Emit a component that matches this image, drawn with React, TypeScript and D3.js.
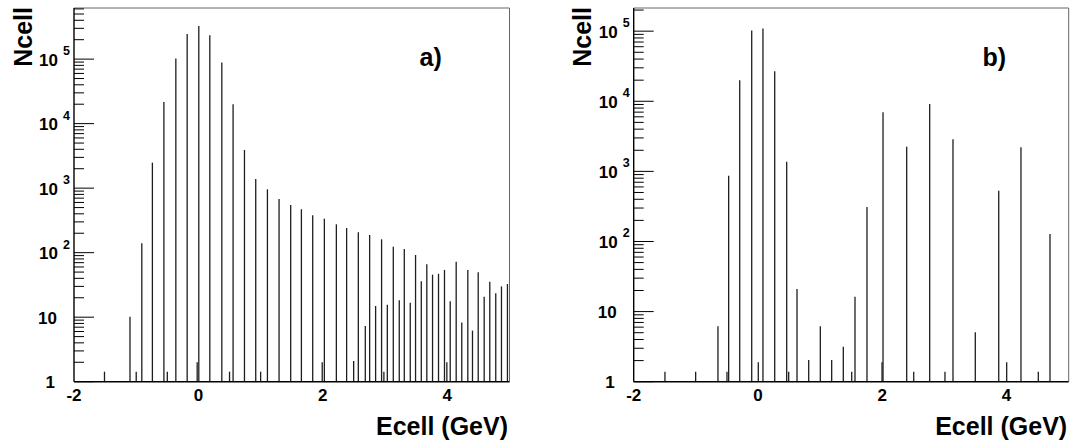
import React from "react";
import * as d3 from "d3";

// panel a) : cell energy (GeV) and number of cells
const energyA = [
  -1.51, -1.10, -1.0, -0.91, -0.74, -0.555, -0.5, -0.363, -0.181, -0.02, 0.006,
  0.183, 0.376, 0.5, 0.557, 0.74, 0.921, 1.0, 1.109, 1.296, 1.483, 1.655, 1.837,
  1.99, 2.024, 2.217, 2.382, 2.495, 2.57, 2.682, 2.752, 2.848, 2.944, 2.981,
  3.036, 3.132, 3.228, 3.309, 3.405, 3.49, 3.582, 3.671, 3.763, 3.859, 3.955,
  3.993, 4.047, 4.143, 4.233, 4.33, 4.405, 4.497, 4.593, 4.683, 4.779, 4.871,
  4.967,
];
const countsA = [
  1.43, 10.2, 1.43, 140, 2480, 21700, 1.43, 102000, 246000, 2.0, 327000,
  235000, 89000, 1.43, 20000, 3900, 1390, 1.43, 960, 680, 550, 471, 380,
  2.0, 336, 275, 241, 2.1, 207, 7.3, 188, 14.9, 161, 1.43,
  15.6, 124, 18.3, 114, 16.8, 92, 36, 66, 45.6, 47, 54,
  2.0, 17.6, 72, 8.3, 54, 6.2, 49.7, 20.8, 35.5, 23.5, 30,
  32.7,
];

// panel b)
const energyB = [
  -1.497, -1.003, -0.644, -0.499, -0.472, -0.294, -0.101, 0.005, 0.08, 0.269,
  0.462, 0.494, 0.628, 0.816, 1.003, 1.186, 1.373, 1.508, 1.561, 1.754, 1.996,
  2.012, 2.393, 2.506, 2.763, 3.009, 3.138, 3.497, 3.874, 4.002, 4.232, 4.511,
  4.699,
];
const countsB = [
  1.39, 1.39, 6.2, 1.39, 865, 20000, 102000, 1.9, 109000, 26800,
  1375, 1.39, 21, 2.04, 6.2, 2.04, 3.16, 1.39, 16.3, 311, 1.9,
  6970, 2250, 1.39, 9150, 1.39, 2870, 5.07, 531, 1.9, 2200, 1.39,
  128,
];

const xTicks = [-2, 0, 2, 4];
const yExps = [0, 1, 2, 3, 4, 5];
const xTitle = "Ecell (GeV)";
const yTitle = "Ncell";

const FONT = "'Liberation Sans', Arial, Helvetica, sans-serif";

type PanelProps = {
  energy: number[];
  counts: number[];
  yMax: number;
  left: number;
  right: number;
  top: number;
  bottom: number;
  tag: string;
  tagX: number;
};

function Panel({ energy, counts, yMax, left, right, top, bottom, tag, tagX }: PanelProps) {
  const x = d3.scaleLinear().domain([-2, 5]).range([left, right]);
  const y = d3.scaleLog().domain([1, yMax]).range([bottom, top]);

  const minor: number[] = [];
  yExps.forEach((e) => {
    for (let m = 2; m <= 9; m++) {
      const v = m * Math.pow(10, e);
      if (v < yMax) minor.push(v);
    }
  });

  return (
    <g>
      {/* bars */}
      {energy.map((e, i) => (
        <line
          key={i}
          x1={x(e)}
          x2={x(e)}
          y1={y(1)}
          y2={y(counts[i])}
          stroke="#1e1e1e"
          strokeWidth={1.3}
        />
      ))}

      {/* frame */}
      <line x1={left} x2={right} y1={top} y2={top} stroke="#666" strokeWidth={1} />
      <line x1={right} x2={right} y1={top} y2={bottom} stroke="#666" strokeWidth={1} />
      <line x1={left} x2={left} y1={top} y2={bottom} stroke="#000" strokeWidth={1.4} />
      <line x1={left} x2={right} y1={bottom} y2={bottom} stroke="#000" strokeWidth={1.6} />

      {/* y ticks */}
      {minor.map((v) => (
        <line key={"m" + v} x1={left} x2={left + 10} y1={y(v)} y2={y(v)} stroke="#000" strokeWidth={1} />
      ))}
      {yExps.map((e) => (
        <line key={"M" + e} x1={left} x2={left + 20} y1={y(Math.pow(10, e))} y2={y(Math.pow(10, e))} stroke="#000" strokeWidth={1} />
      ))}
      {yExps.map((e) => {
        const ty = y(Math.pow(10, e));
        if (e === 0)
          return (
            <text key={"l" + e} x={left - 19} y={ty + 6.5} textAnchor="end" fontFamily={FONT} fontWeight="bold" fontSize={17}>
              1
            </text>
          );
        if (e === 1)
          return (
            <text key={"l" + e} x={left - 17} y={ty + 6.5} textAnchor="end" fontFamily={FONT} fontWeight="bold" fontSize={17}>
              10
            </text>
          );
        return (
          <g key={"l" + e}>
            <text x={left - 16} y={ty + 6.5} textAnchor="end" fontFamily={FONT} fontWeight="bold" fontSize={17}>
              10
            </text>
            <text x={left - 11} y={ty - 4} fontFamily={FONT} fontWeight="bold" fontSize={12.5}>
              {e}
            </text>
          </g>
        );
      })}

      {/* x tick labels */}
      {xTicks.map((t) => (
        <text key={"x" + t} x={x(t)} y={bottom + 19} textAnchor="middle" fontFamily={FONT} fontWeight="bold" fontSize={17}>
          {t}
        </text>
      ))}

      {/* titles */}
      <text x={right - 1.5} y={435} textAnchor="end" fontFamily={FONT} fontWeight="bold" fontSize={25}>
        {xTitle}
      </text>
      <text
        transform={`translate(${left - 42.5},${top - 1}) rotate(-90)`}
        textAnchor="end"
        fontFamily={FONT}
        fontWeight="bold"
        fontSize={25}
      >
        {yTitle}
      </text>
      <text x={tagX} y={66} fontFamily={FONT} fontWeight="bold" fontSize={25}>
        {tag}
      </text>
    </g>
  );
}

export default function App() {
  return (
    <svg
      width={1072}
      height={443}
      style={{ position: "absolute", left: 0, top: 0, background: "#fff" }}
    >
      <rect width={1072} height={443} fill="#fff" />
      <Panel energy={energyA} counts={countsA} yMax={6.2e5} left={74} right={509.5} top={8} bottom={381.7} tag="a)" tagX={419.5} />
      <Panel energy={energyB} counts={countsB} yMax={2.14e5} left={633.7} right={1068.7} top={8} bottom={381.7} tag="b)" tagX={982.5} />
    </svg>
  );
}
